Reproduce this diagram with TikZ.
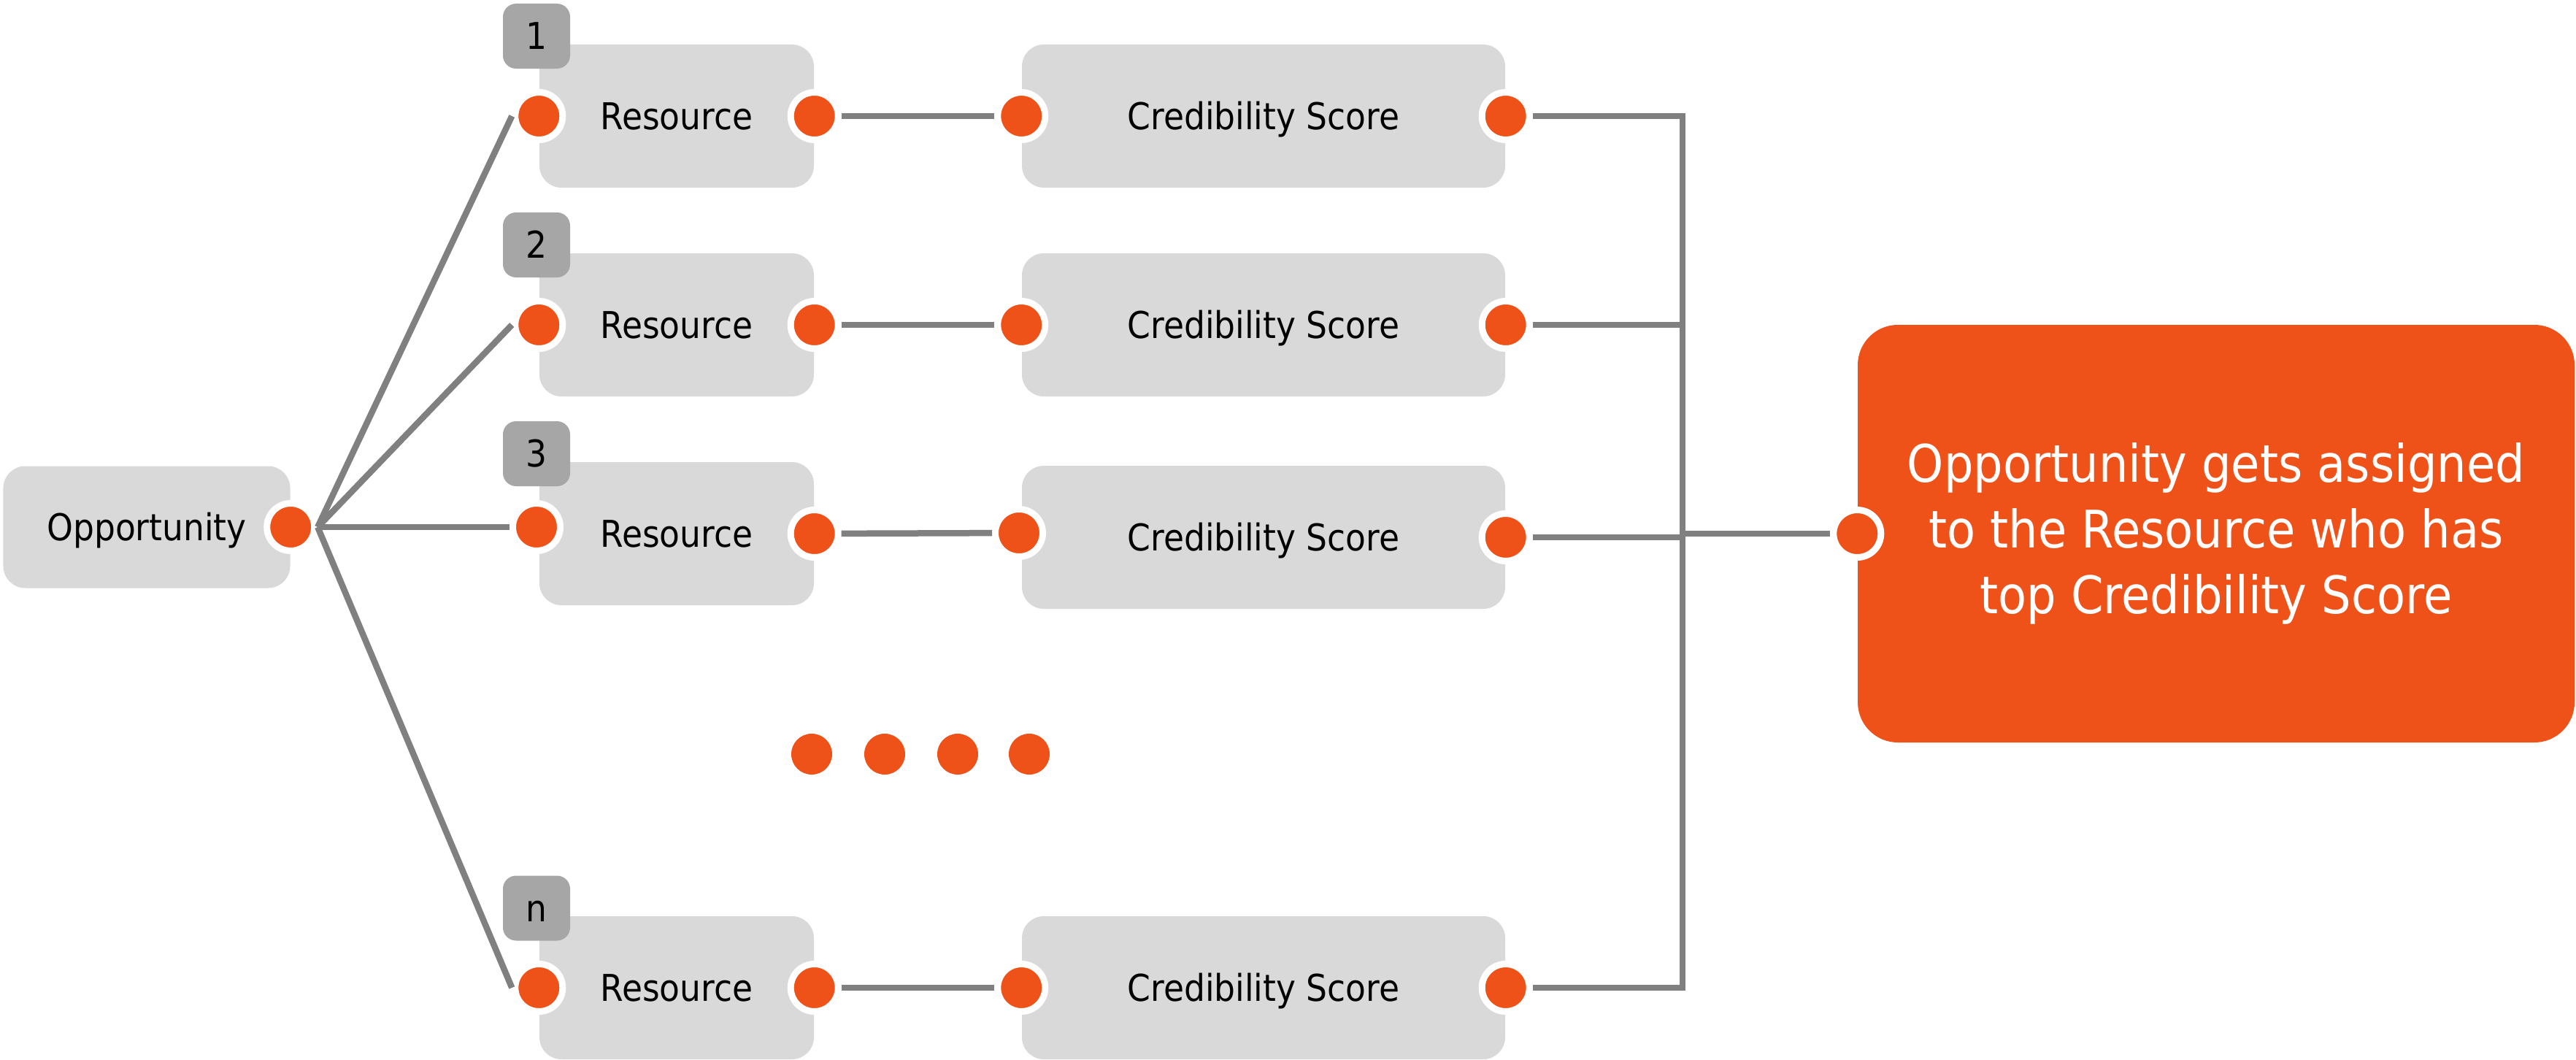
\documentclass[tikz,border=0pt]{standalone}
\usepackage{fontspec}
\setmainfont{DejaVu Sans Condensed}
\usepackage{tikz}
\usetikzlibrary{positioning}
\definecolor{naranja}{RGB}{238,82,24}
\definecolor{grisclaro}{RGB}{217,217,217}
\definecolor{grismedio}{RGB}{166,166,166}
\definecolor{grislinea}{RGB}{128,128,128}

\begin{document}
\begin{tikzpicture}[
  caja/.style={fill=grisclaro, rounded corners=0.3cm, minimum height=1.96cm,
               inner sep=0pt, text height=10.5pt, text depth=0pt,
               font=\fontsize{14.4pt}{17pt}\selectfont},
  etiqueta/.style={fill=grismedio, rounded corners=0.18cm, minimum width=0.92cm,
               minimum height=0.89cm, inner sep=0pt, text height=10.5pt, text depth=0pt,
               font=\fontsize{14.4pt}{17pt}\selectfont},
  punto/.style={circle, fill=naranja, draw=white, line width=0.09cm,
               minimum size=0.65cm, inner sep=0pt},
  mas/.style={circle, fill=naranja, minimum size=0.56cm, inner sep=0pt},
  cable/.style={draw=grislinea, line width=0.085cm}]
  \useasboundingbox (0,0) rectangle (35.29,-14.52);
  \node[caja, minimum width=3.93cm, minimum height=1.67cm] (opp) at (2.01,-7.22) {Opportunity};
  \node[caja, minimum width=3.76cm] (r1) at (9.27,-1.59)  {Resource};
  \node[caja, minimum width=3.76cm] (r2) at (9.27,-4.45)  {Resource};
  \node[caja, minimum width=3.76cm] (r3) at (9.27,-7.31)  {Resource};
  \node[caja, minimum width=3.76cm] (rn) at (9.27,-13.53) {Resource};
  \node[caja, minimum width=6.62cm] (c1) at (17.31,-1.59)  {Credibility Score};
  \node[caja, minimum width=6.62cm] (c2) at (17.31,-4.45)  {Credibility Score};
  \node[caja, minimum width=6.62cm] (c3) at (17.31,-7.36)  {Credibility Score};
  \node[caja, minimum width=6.62cm] (cn) at (17.31,-13.53) {Credibility Score};
  \node[fill=naranja, rounded corners=0.55cm, minimum width=9.82cm, minimum height=5.72cm,
        text=white, align=center, font=\fontsize{20.2pt}{25.5pt}\selectfont]
        (fin) at (30.36,-7.31) {Opportunity gets assigned\\to the Resource who has\\top Credibility Score};
  \node[etiqueta] (t1) at (7.35,-0.495)  {1};
  \node[etiqueta] (t2) at (7.35,-3.355)  {2};
  \node[etiqueta] (t3) at (7.35,-6.215)  {3};
  \node[etiqueta] (tn) at (7.35,-12.44)  {n};
  \node[punto] (oppd) at (opp.east) {};
  \node[punto] (r1a) at (r1.west) {};
  \node[punto] (r1b) at (r1.east) {};
  \node[punto] (r2a) at (r2.west) {};
  \node[punto] (r2b) at (r2.east) {};
  \node[punto] (r3a) at (7.35,-7.22) {};
  \node[punto] (r3b) at (r3.east) {};
  \node[punto] (rna) at (rn.west) {};
  \node[punto] (rnb) at (rn.east) {};
  \node[punto] (c1a) at (c1.west) {};
  \node[punto] (c1b) at (c1.east) {};
  \node[punto] (c2a) at (c2.west) {};
  \node[punto] (c2b) at (c2.east) {};
  \node[punto] (c3a) at (13.96,-7.30) {};
  \node[punto] (c3b) at (c3.east) {};
  \node[punto] (cna) at (cn.west) {};
  \node[punto] (cnb) at (cn.east) {};
  \node[punto] (find) at (fin.west) {};
  \node[mas] (m1) at (11.12,-10.33) {};
  \node[mas] (m2) at (12.12,-10.33) {};
  \node[mas] (m3) at (13.12,-10.33) {};
  \node[mas] (m4) at (14.10,-10.33) {};
  \coordinate (bus) at (23.05,-7.31);
  \draw[cable] (oppd.east) -- (r1a.west);
  \draw[cable] (oppd.east) -- (r2a.west);
  \draw[cable] (oppd.east) -- (r3a.west);
  \draw[cable] (oppd.east) -- (rna.west);
  \draw[cable] (r1b) -- (c1a);
  \draw[cable] (r2b) -- (c2a);
  \draw[cable] (r3b) -- (c3a);
  \draw[cable] (rnb) -- (cna);
  \draw[cable] (c1b.east) -- (c1b.east -| bus) -- (cnb.east -| bus) -- (cnb.east);
  \draw[cable] (c2b.east) -- (c2b.east -| bus);
  \draw[cable] (c3b.east) -- (c3b.east -| bus);
  \draw[cable] (bus |- find.west) -- (find.west);
\end{tikzpicture}
\end{document}
